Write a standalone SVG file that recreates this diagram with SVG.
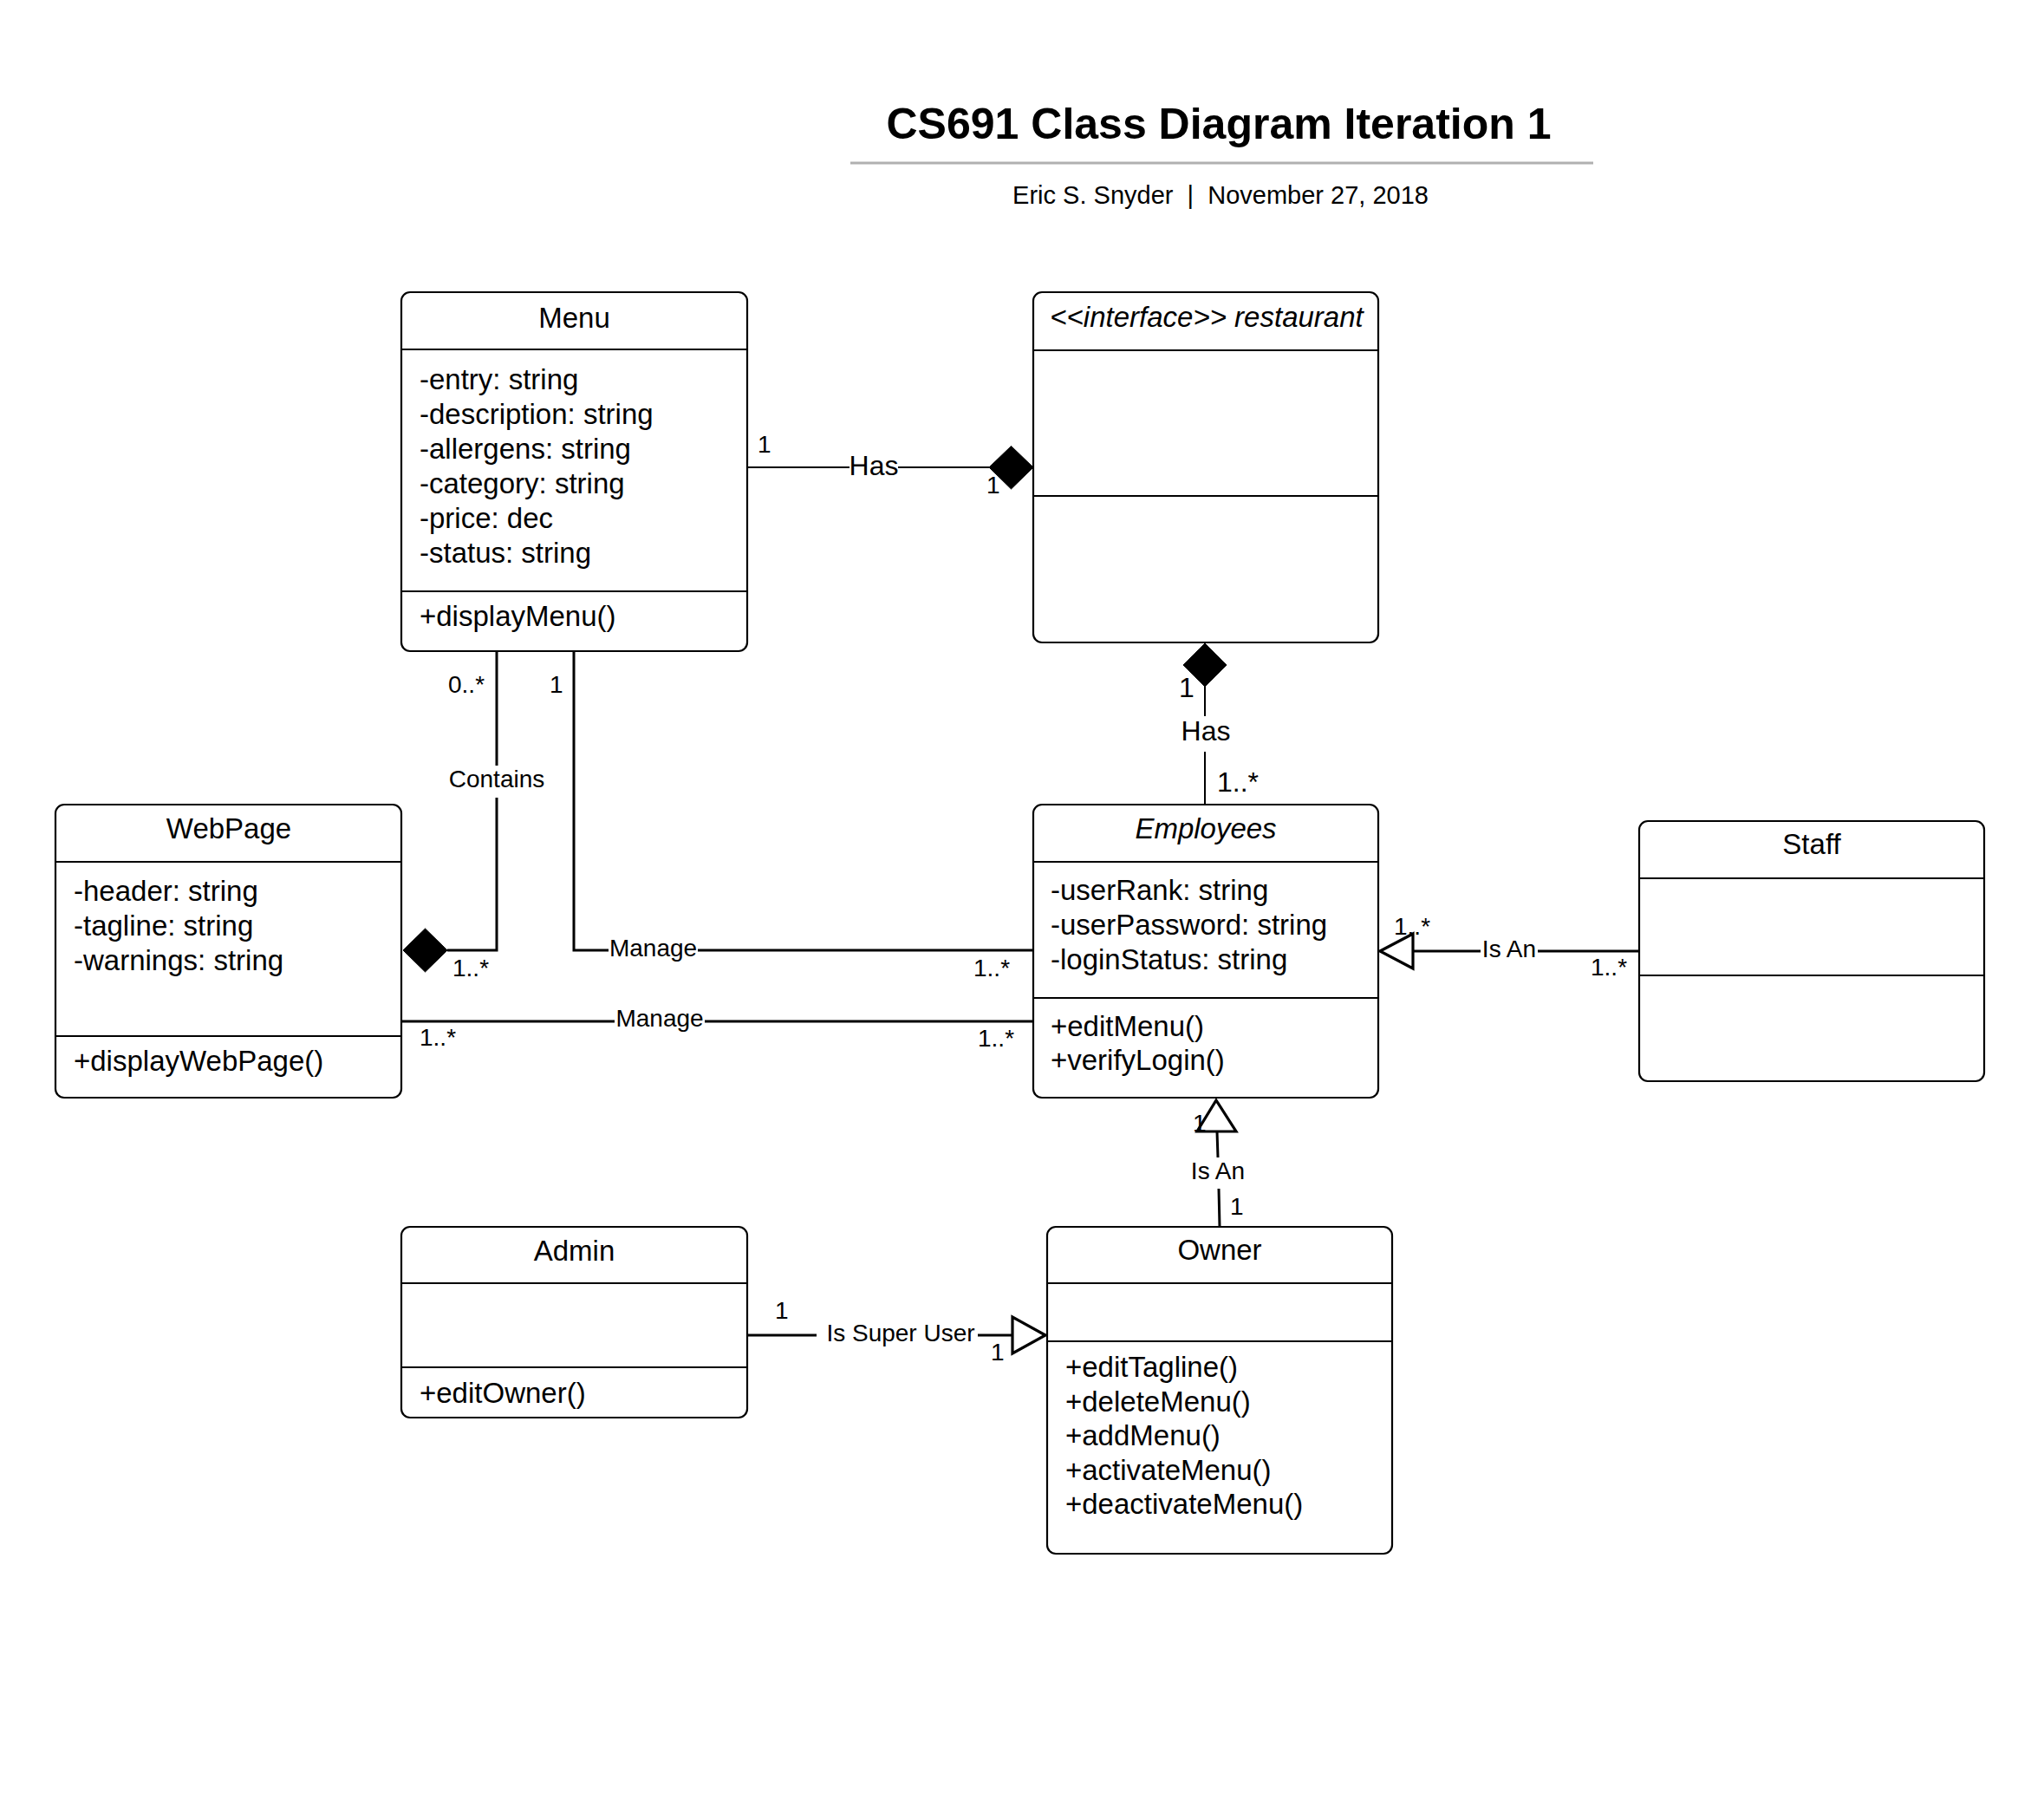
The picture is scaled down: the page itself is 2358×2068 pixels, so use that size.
<svg xmlns="http://www.w3.org/2000/svg" width="2358" height="2068" viewBox="0 0 2358 2068">
<style>
text{font-family:"Liberation Sans",Arial,Helvetica,sans-serif;fill:#000}
.box{fill:#fff;stroke:#000;stroke-width:2.2}
.div{stroke:#000;stroke-width:2.2}
.nm{font-size:33px;text-anchor:middle}
.it{font-style:italic}
.at{font-size:33px}
.lb{font-size:28px}
.lg{font-size:32px}
.mid{text-anchor:middle}
.c{fill:none;stroke:#000;stroke-width:3}
.t{fill:none;stroke:#000;stroke-width:2}
.dia{fill:#000;stroke:#000;stroke-width:1}
.tri{fill:#fff;stroke:#000;stroke-width:3.2;stroke-linejoin:miter}
</style>
<rect width="2358" height="2068" fill="#fff"/>
<g id="header">
<text x="1406" y="160" font-size="50" font-weight="bold" text-anchor="middle">CS691 Class Diagram Iteration 1</text>
<line x1="981" y1="188" x2="1838" y2="188" stroke="#b0b0b0" stroke-width="3"/>
<text x="1408" y="235" font-size="29" text-anchor="middle" xml:space="preserve">Eric S. Snyder  |  November 27, 2018</text>
</g>
<g id="connectors">
<g id="menu-restaurant">
<path class="t" d="M862 539H980M1036 539H1141"/>
<polygon class="dia" points="1141,539 1166.5,514.5 1192,539 1166.5,564"/>
<text class="lg mid" x="1008" y="548">Has</text>
<text class="lb" x="874" y="522">1</text>
<text class="lb" x="1138" y="569">1</text>
</g>
<g id="restaurant-employees">
<polygon class="dia" points="1390,742 1415,767 1390,792 1365,767"/>
<path class="t" d="M1390 792V826M1390 867V928"/>
<text class="lg mid" x="1391" y="854">Has</text>
<text class="lg" x="1360" y="804">1</text>
<text class="lg" x="1404" y="913">1..*</text>
</g>
<g id="menu-webpage">
<path class="c" d="M573 751V883M573 920V1096H516"/>
<polygon class="dia" points="465,1096 490.5,1071 516,1096 490.5,1121"/>
<text class="lb mid" x="573" y="908">Contains</text>
<text class="lb" x="517" y="799">0..*</text>
<text class="lb" x="522" y="1126">1..*</text>
</g>
<g id="menu-employees">
<path class="c" d="M662 751V1096H702M805 1096H1192"/>
<text class="lb mid" x="753.5" y="1103">Manage</text>
<text class="lb" x="634" y="799">1</text>
<text class="lb" x="1123" y="1126">1..*</text>
</g>
<g id="webpage-employees">
<path class="c" d="M463 1178H709M813 1178H1192"/>
<text class="lb mid" x="761" y="1184">Manage</text>
<text class="lb" x="484" y="1206">1..*</text>
<text class="lb" x="1128" y="1207">1..*</text>
</g>
<g id="staff-employees">
<path class="c" d="M1891 1097H1774M1708 1097H1630"/>
<polygon class="tri" points="1592,1097 1630,1077 1630,1117"/>
<text class="lb mid" x="1741" y="1104">Is An</text>
<text class="lb" x="1608" y="1078">1..*</text>
<text class="lb" x="1835" y="1125">1..*</text>
</g>
<g id="owner-employees">
<path class="c" d="M1407 1415L1406 1371M1405 1335L1404 1305"/>
<polygon class="tri" points="1403,1269 1426,1305 1381,1305"/>
<text class="lb mid" x="1405" y="1360">Is An</text>
<text class="lb" x="1376" y="1305">1</text>
<text class="lb" x="1419" y="1401">1</text>
</g>
<g id="admin-owner">
<path class="c" d="M862 1540H942M1128 1540H1168"/>
<polygon class="tri" points="1206,1540 1168,1519 1168,1561"/>
<text class="lb mid" x="1039" y="1547">Is Super User</text>
<text class="lb" x="894" y="1521">1</text>
<text class="lb" x="1143" y="1569">1</text>
</g>
</g>
<g id="Menu">
<rect class="box" x="463" y="337" width="399" height="414" rx="10"/>
<line class="div" x1="463" y1="403" x2="862" y2="403"/>
<line class="div" x1="463" y1="682" x2="862" y2="682"/>
<text class="nm" x="662.5" y="378">Menu</text>
<text class="at" x="484" y="449">-entry: string</text>
<text class="at" x="484" y="489">-description: string</text>
<text class="at" x="484" y="529">-allergens: string</text>
<text class="at" x="484" y="569">-category: string</text>
<text class="at" x="484" y="609">-price: dec</text>
<text class="at" x="484" y="649">-status: string</text>
<text class="at" x="484" y="722">+displayMenu()</text>
</g>
<g id="restaurant">
<rect class="box" x="1192" y="337" width="398" height="404" rx="10"/>
<line class="div" x1="1192" y1="404" x2="1590" y2="404"/>
<line class="div" x1="1192" y1="572" x2="1590" y2="572"/>
<text class="nm it" x="1392" y="377">&lt;&lt;interface&gt;&gt; restaurant</text>
</g>
<g id="WebPage">
<rect class="box" x="64" y="928" width="399" height="338" rx="10"/>
<line class="div" x1="64" y1="994" x2="463" y2="994"/>
<line class="div" x1="64" y1="1195" x2="463" y2="1195"/>
<text class="nm" x="264" y="967">WebPage</text>
<text class="at" x="85" y="1039">-header: string</text>
<text class="at" x="85" y="1079">-tagline: string</text>
<text class="at" x="85" y="1119">-warnings: string</text>
<text class="at" x="85" y="1235">+displayWebPage()</text>
</g>
<g id="Employees">
<rect class="box" x="1192" y="928" width="398" height="338" rx="10"/>
<line class="div" x1="1192" y1="994" x2="1590" y2="994"/>
<line class="div" x1="1192" y1="1151" x2="1590" y2="1151"/>
<text class="nm it" x="1391" y="967">Employees</text>
<text class="at" x="1212" y="1038">-userRank: string</text>
<text class="at" x="1212" y="1078">-userPassword: string</text>
<text class="at" x="1212" y="1118">-loginStatus: string</text>
<text class="at" x="1212" y="1195">+editMenu()</text>
<text class="at" x="1212" y="1234">+verifyLogin()</text>
</g>
<g id="Staff">
<rect class="box" x="1891" y="947" width="398" height="300" rx="10"/>
<line class="div" x1="1891" y1="1013" x2="2289" y2="1013"/>
<line class="div" x1="1891" y1="1125" x2="2289" y2="1125"/>
<text class="nm" x="2090" y="985">Staff</text>
</g>
<g id="Admin">
<rect class="box" x="463" y="1415" width="399" height="220" rx="10"/>
<line class="div" x1="463" y1="1480" x2="862" y2="1480"/>
<line class="div" x1="463" y1="1577" x2="862" y2="1577"/>
<text class="nm" x="662.5" y="1454">Admin</text>
<text class="at" x="484" y="1618">+editOwner()</text>
</g>
<g id="Owner">
<rect class="box" x="1208" y="1415" width="398" height="377" rx="10"/>
<line class="div" x1="1208" y1="1480" x2="1606" y2="1480"/>
<line class="div" x1="1208" y1="1547" x2="1606" y2="1547"/>
<text class="nm" x="1407" y="1453">Owner</text>
<text class="at" x="1229" y="1588">+editTagline()</text>
<text class="at" x="1229" y="1628">+deleteMenu()</text>
<text class="at" x="1229" y="1667">+addMenu()</text>
<text class="at" x="1229" y="1707">+activateMenu()</text>
<text class="at" x="1229" y="1746">+deactivateMenu()</text>
</g>
</svg>
